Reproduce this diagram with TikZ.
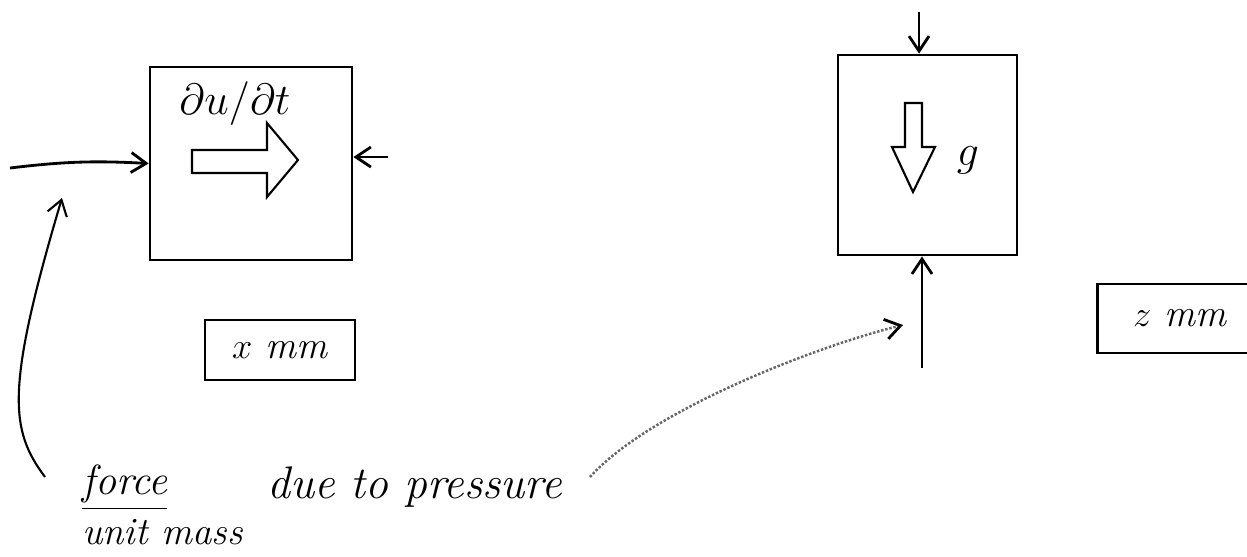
\documentclass[tikz,border=0pt]{standalone}
\usepackage{amsmath, amssymb}
\usepackage{tikz}
\usetikzlibrary{arrows.meta, positioning, calc}

\begin{document}
\begin{tikzpicture}[
  x=0.02cm, y=-0.02cm,
  >={Straight Barb[length=3mm,width=4mm]},
  cell/.style={draw, line width=1.6pt, inner sep=0pt},
  tag/.style={draw, line width=1.4pt, inner sep=0pt, font=\fontsize{22}{26}\selectfont\itshape},
  hand/.style={inner sep=0pt, font=\fontsize{24}{28}\selectfont\itshape},
  push/.style={->, line width=1.6pt},
  pointer/.style={->, line width=1.2pt},
  dots/.style={-{Straight Barb[length=3mm,width=4mm,color=black,line width=1.6pt]}, draw=black!60, line width=1.4pt, densely dotted},
  hollow/.style={draw, line width=1.2pt, line join=miter}
  ]
  \useasboundingbox (0,0) rectangle (1247,556);
  \clip (0,0) rectangle (1247,556);
  % Boxes
  \node[cell, minimum width=4.04cm, minimum height=3.86cm] (momX) at (251,163.5) {};
  \node[cell, minimum width=3.58cm, minimum height=4.0cm] (momZ) at (927.5,155) {};
  \node[tag, minimum width=3.0cm, minimum height=1.2cm] (tagX) at (280,350) {$x$ mm};
  \node[tag, minimum width=3.3cm, minimum height=1.38cm] (tagZ) at (1180,318.5) {$z$ mm};
  % Labels
  \node[hand] (dudt) at (235,104) {$\partial u/\partial t$};
  \node[hand, font=\fontsize{36}{40}\selectfont] (grav) at (968,160) {$g$};
  \node[hand, anchor=base west] (force) at (82,494) {\underline{force}};
  \node[hand, font=\fontsize{22}{26}\selectfont\itshape, below right=0.15cm and 0cm of force.south west] (unit) {unit mass};
  \node[hand, font=\fontsize{26}{30}\selectfont\itshape, anchor=base west] (due) at (267,498) {due to pressure};
  % Hollow arrows
  \draw[hollow] (192,150) -- (267,150) -- (267,123) -- (298,160) -- (267,197) -- (267,173) -- (192,173) -- cycle;
  \draw[hollow] (905,103) -- (922,103) -- (922,147) -- (935,147) -- (913,192) -- (892,147) -- (905,147) -- cycle;
  % Forces on the boxes
  \coordinate (srcW) at (10,168);
  \coordinate (srcE) at (388,157);
  \coordinate (srcN) at (919,12);
  \coordinate (srcS) at (922,368);
  \draw[push] (srcW) to[bend left=5] (momX.west);
  \draw[push] (srcE) -- (srcE -| momX.east);
  \draw[push] (srcN) -- (srcN |- momZ.north);
  \draw[push] (srcS) -- (srcS |- momZ.south);
  % Pointers
  \coordinate (ptrA) at (45,477);
  \coordinate (ptrB) at (62,198);
  \coordinate (ptrC) at (590,477);
  \coordinate (ptrD) at (903,325);
  \draw[pointer] (ptrA) .. controls (10,430) and (5,390) .. (ptrB);
  \draw[dots] (ptrC) .. controls (650,410) and (820,345) .. (ptrD);
\end{tikzpicture}
\end{document}
